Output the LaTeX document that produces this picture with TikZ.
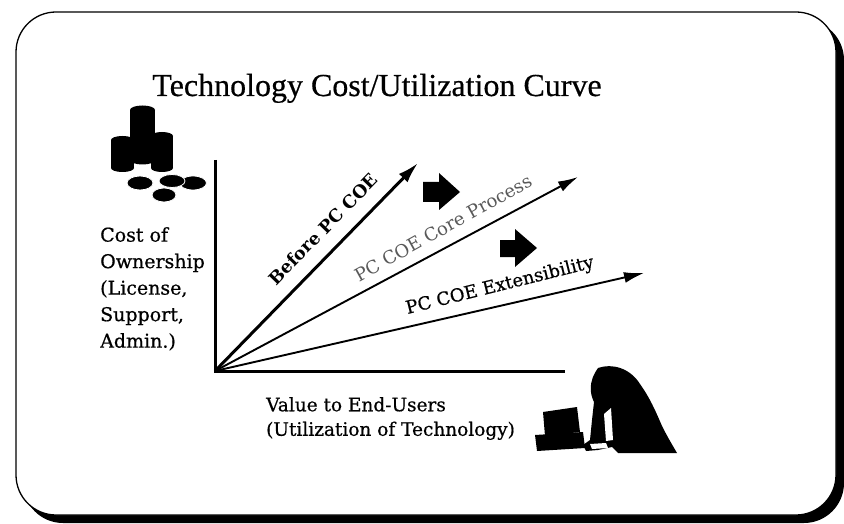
\documentclass[tikz,border=0pt]{standalone}
\usepackage{fontspec}
\setmainfont{DejaVu Serif}
\newfontfamily\titlefont[FakeBold=0.5]{Liberation Serif}
\newfontfamily\heavyfont[FakeBold=0.6]{DejaVu Serif}
\usetikzlibrary{arrows.meta}
\begin{document}
\begin{tikzpicture}[x=1pt,y=-1pt,
  axisline/.style={line width=3pt},
  ray/.style={line width=1.9pt,-{Latex[length=20pt,width=11pt]}},
  bigray/.style={line width=3pt,-{Latex[length=21pt,width=12pt]}},
  lbl/.style={inner sep=0pt,font=\fontsize{18}{20}\selectfont},
  blockarrow/.style={fill=black},
  coin/.style={fill=black,draw=white,line width=0.8pt}]
\useasboundingbox (0,0) rectangle (844,524);

% framed panel with drop shadow
\fill[rounded corners=40] (23,20) rectangle (844,523);
\draw[fill=white,line width=1.3pt,rounded corners=40] (16,12) rectangle (836,515);

% title
\node[font=\titlefont\fontsize{32}{38}\selectfont,anchor=base,inner sep=0pt] (title) at (377,96) {Technology Cost/Utilization Curve};

% axes
\coordinate (o) at (215,371);
\coordinate (ytop) at (215,160);
\coordinate (xend) at (565,371);
\draw[axisline] (ytop) -- (o) -- (xend);

% rays
\coordinate (t1) at (418,163);
\coordinate (t2) at (578,177);
\coordinate (t3) at (644,273);
\draw[bigray] (o) -- (t1);
\draw[ray] (o) -- (t2);
\draw[ray] (o) -- (t3);

% ray labels
\node[lbl,font=\bfseries\fontsize{17.5}{20}\selectfont,rotate=45.8] (l1) at (323,229) {Before PC COE};
\node[lbl,text=black!65,rotate=29] (l2) at (443,228) {PC COE Core Process};
\node[lbl,font=\heavyfont\fontsize{18}{20}\selectfont,rotate=14] (l3) at (500,286) {PC COE Extensibility};

% block arrows
\fill[blockarrow] (423,182) -- (439,182) -- (439,173) -- (460,192) -- (439,210) -- (439,202) -- (423,202) -- cycle;
\fill[blockarrow] (500,240) -- (515,240) -- (515,229) -- (537,248) -- (515,267) -- (515,257) -- (500,257) -- cycle;

% axis labels
\node[anchor=north west,inner sep=0pt,align=left,font=\heavyfont\fontsize{19}{26.5}\selectfont] (ylab) at (100,227) {Cost of\\Ownership\\(License,\\Support,\\Admin.)};
\node[anchor=north west,inner sep=0pt,align=left,font=\heavyfont\fontsize{18.5}{24.5}\selectfont] (xlab) at (266,397) {Value to End-Users\\(Utilization of Technology)};

% coin stacks
\fill (111,140) rectangle (134,168);
\fill (122.5,140) ellipse (11.5 and 4);
\fill (122.5,168) ellipse (11.5 and 4);
\fill (151,136) rectangle (173,168);
\fill (162,136) ellipse (11 and 4);
\fill (162,168) ellipse (11 and 4);
\fill (130,110) rectangle (155,160);
\fill (142.5,110) ellipse (12.5 and 4.5);
\fill (142.5,160) ellipse (12.5 and 4.5);
% loose coins
\path[coin] (140,183) ellipse (13 and 7);
\path[coin] (193,183) ellipse (13.5 and 7);
\path[coin] (172,181) ellipse (13 and 6.5);
\path[coin] (164,195) ellipse (12 and 7);

% person at a computer
\fill (535,435) -- (583,432) -- (585,448) -- (537,451) -- cycle;
\fill (543,412) -- (577,407) -- (580,432) -- (545,436) -- cycle;
\fill (598,368) .. controls (612,363) and (630,368) .. (640,384)
  .. controls (650,398) and (656,412) .. (662,426)
  .. controls (668,438) and (673,446) .. (677,453)
  -- (618,453) -- (612,447) -- (598,450) -- (586,451) -- (583,445)
  -- (590,440) -- (592,420) -- (594,402)
  .. controls (590,394) and (588,382) .. (598,368) -- cycle;
\fill[white] (604,414) -- (611,408) -- (613,440) -- (606,441) -- cycle;
\fill[white] (590,444) -- (606,443) -- (608,448) -- (592,449) -- cycle;
\end{tikzpicture}
\end{document}
